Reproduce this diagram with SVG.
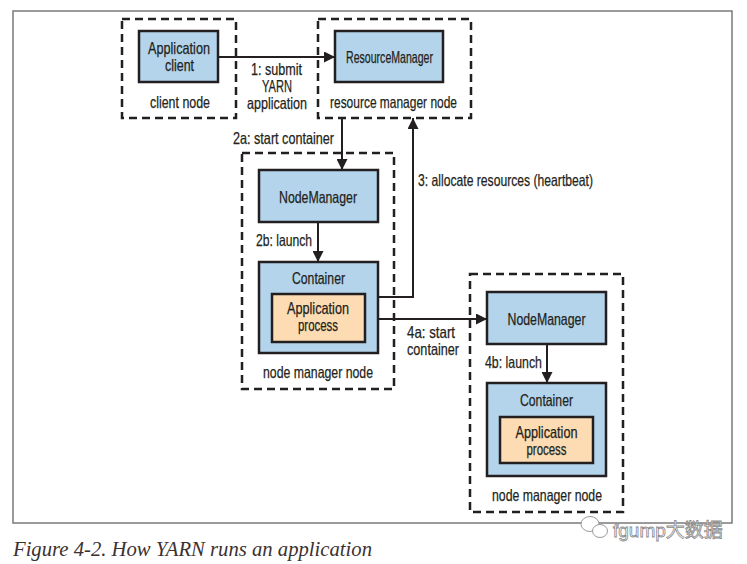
<svg xmlns="http://www.w3.org/2000/svg" width="747" height="564" viewBox="0 0 747 564">
<style>
.t{font-family:"Liberation Sans",Arial,sans-serif;font-size:16.5px;fill:#231f20;stroke:#231f20;stroke-width:0.25;text-anchor:middle}
.r{text-anchor:end}
.s{text-anchor:start}
.box{fill:#b3d4ea;stroke:#231f20;stroke-width:2.5}
.proc{fill:#fddcb3;stroke:#231f20;stroke-width:2.5}
.dash{fill:none;stroke:#231f20;stroke-width:2.5;stroke-dasharray:8 5}
.ln{fill:none;stroke:#231f20;stroke-width:2}
</style>
<defs>
<marker id="ah" viewBox="0 0 10 10" refX="10" refY="5" markerWidth="5.5" markerHeight="5.5" orient="auto" markerUnits="strokeWidth">
<path d="M0,0 L10,5 L0,10 z" fill="#231f20"/>
</marker>
</defs>
<rect width="747" height="564" fill="#fff"/>
<rect x="13" y="11" width="719" height="512" fill="none" stroke="#7a7a7a" stroke-width="1.5"/>

<g id="client-node">
<rect class="dash" x="122" y="19" width="114" height="99"/>
<rect class="box" x="139" y="31" width="79" height="51"/>
<text class="t" x="179" y="54" textLength="62" lengthAdjust="spacingAndGlyphs">Application</text>
<text class="t" x="179.5" y="71" textLength="29" lengthAdjust="spacingAndGlyphs">client</text>
<text class="t" x="180" y="108" textLength="60" lengthAdjust="spacingAndGlyphs">client node</text>
</g>

<g id="resource-manager-node">
<rect class="dash" x="318" y="19" width="153" height="99"/>
<rect class="box" x="335" y="31" width="108" height="51"/>
<text class="t" x="389.5" y="63" textLength="87" lengthAdjust="spacingAndGlyphs">ResourceManager</text>
<text class="t" x="393.5" y="108" textLength="127" lengthAdjust="spacingAndGlyphs">resource manager node</text>
</g>

<g id="node-manager-node-1">
<rect class="dash" x="242" y="153" width="152" height="236"/>
<rect class="box" x="259" y="170" width="119" height="52"/>
<text class="t" x="318" y="203" textLength="78" lengthAdjust="spacingAndGlyphs">NodeManager</text>
<rect class="box" x="259" y="262" width="119" height="91"/>
<text class="t" x="318.5" y="284" textLength="53" lengthAdjust="spacingAndGlyphs">Container</text>
<rect class="proc" x="272" y="294" width="93" height="48"/>
<text class="t" x="318" y="314" textLength="62" lengthAdjust="spacingAndGlyphs">Application</text>
<text class="t" x="318" y="331" textLength="40" lengthAdjust="spacingAndGlyphs">process</text>
<text class="t" x="318" y="378" textLength="110" lengthAdjust="spacingAndGlyphs">node manager node</text>
</g>

<g id="node-manager-node-2">
<rect class="dash" x="470" y="274" width="153" height="238"/>
<rect class="box" x="487" y="292" width="119" height="52"/>
<text class="t" x="546.5" y="325" textLength="78" lengthAdjust="spacingAndGlyphs">NodeManager</text>
<rect class="box" x="487" y="383" width="119" height="93"/>
<text class="t" x="546.5" y="406" textLength="53" lengthAdjust="spacingAndGlyphs">Container</text>
<rect class="proc" x="500" y="417" width="93" height="46"/>
<text class="t" x="546.5" y="438" textLength="62" lengthAdjust="spacingAndGlyphs">Application</text>
<text class="t" x="546.5" y="455" textLength="40" lengthAdjust="spacingAndGlyphs">process</text>
<text class="t" x="547" y="501" textLength="110" lengthAdjust="spacingAndGlyphs">node manager node</text>
</g>

<g id="connectors">
<path class="ln" d="M218,57 H335" marker-end="url(#ah)"/>
<path class="ln" d="M342,118 V170" marker-end="url(#ah)"/>
<path class="ln" d="M378,297 H413 V118" marker-end="url(#ah)"/>
<path class="ln" d="M318,222 V262" marker-end="url(#ah)"/>
<path class="ln" d="M378,319 H487" marker-end="url(#ah)"/>
<path class="ln" d="M547,344 V383" marker-end="url(#ah)"/>
<text class="t" x="276.5" y="75" textLength="51" lengthAdjust="spacingAndGlyphs">1: submit</text>
<text class="t" x="277" y="92" textLength="30" lengthAdjust="spacingAndGlyphs">YARN</text>
<text class="t" x="277" y="109" textLength="60" lengthAdjust="spacingAndGlyphs">application</text>
<text class="t r" x="334" y="144" textLength="101" lengthAdjust="spacingAndGlyphs">2a: start container</text>
<text class="t s" x="418" y="186" textLength="175" lengthAdjust="spacingAndGlyphs">3: allocate resources (heartbeat)</text>
<text class="t r" x="312" y="246" textLength="56" lengthAdjust="spacingAndGlyphs">2b: launch</text>
<text class="t" x="431" y="338" textLength="48" lengthAdjust="spacingAndGlyphs">4a: start</text>
<text class="t" x="433" y="355" textLength="52" lengthAdjust="spacingAndGlyphs">container</text>
<text class="t r" x="542" y="368" textLength="57" lengthAdjust="spacingAndGlyphs">4b: launch</text>
</g>

<g id="watermark">
<ellipse cx="590" cy="524" rx="9" ry="7.5" fill="#fff" stroke="#9a9a9a" stroke-width="1"/>
<ellipse cx="600" cy="531" rx="7.5" ry="6.5" fill="#fff" stroke="#9a9a9a" stroke-width="1"/>
<text x="613" y="537" font-family="'Liberation Sans','Noto Sans CJK SC',sans-serif" font-size="19" fill="#fff" stroke="#8a8a8a" stroke-width="0.8">fgump大数据</text>
</g>

<text x="13" y="556" font-family="'Liberation Serif',serif" font-style="italic" font-size="20" fill="#3b3130" textLength="359" lengthAdjust="spacingAndGlyphs">Figure 4-2. How YARN runs an application</text>
</svg>
